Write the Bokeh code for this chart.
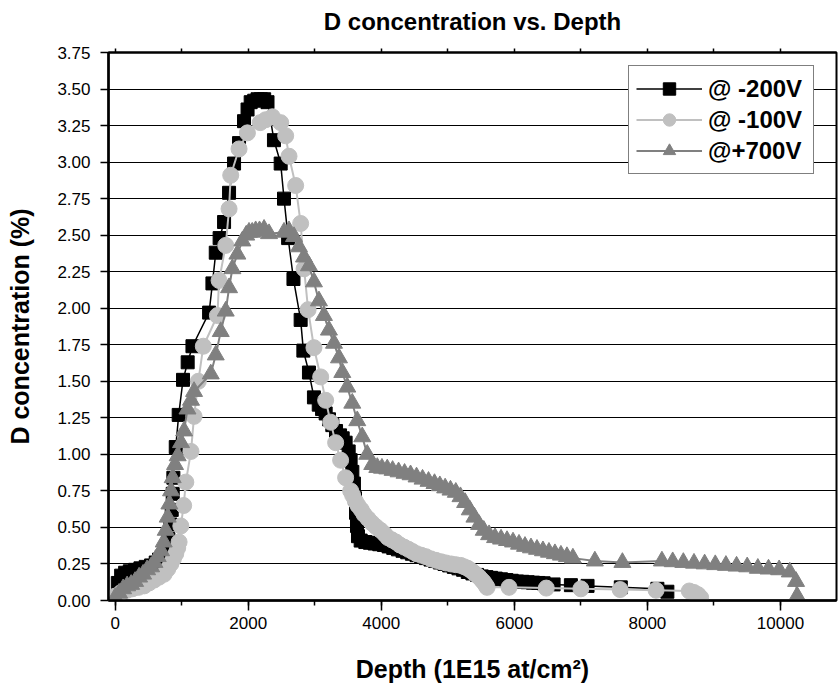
from bokeh.plotting import figure
from bokeh.models import (Range1d, LinearAxis, SingleIntervalTicker, NumeralTickFormatter,
                          FixedTicker, Legend, LegendItem, Grid)
from bokeh.embed import file_html
from bokeh.resources import INLINE

FONT = "Liberation Sans"

# ---------------- data ----------------
title_text = "D concentration vs. Depth"
x_label = "Depth (1E15 at/cm²)"
y_label = "D concentration (%)"
series_names = ["@ -200V", "@ -100V", "@+700V"]

m200_x = [40, 90, 150, 220, 300, 380, 460, 540, 610, 660,
          700, 760, 800, 830, 850, 865, 875, 911, 955, 1020,
          1090, 1162, 1412, 1462, 1512, 1570, 1637, 1712, 1787, 1862,
          1937, 1990, 2037, 2090, 2140, 2190, 2240, 2290, 2387, 2488,
          2538, 2600, 2680, 2788, 2829, 2913, 2988, 3060, 3110, 3164,
          3214, 3264, 3320, 3380, 3420, 3464, 3510, 3539, 3565, 3589,
          3605, 3620, 3635, 3650, 3690, 3760, 3830, 3900, 3970, 4040,
          4110, 4180, 4250, 4320, 4390, 4460, 4530, 4600, 4670, 4740,
          4810, 4880, 4950, 5020, 5090, 5160, 5230, 5300, 5370, 5440,
          5510, 5580, 5650, 5720, 5800, 5880, 5960, 6040, 6120, 6200,
          6280, 6360, 6440, 6590, 6850, 7100, 7600, 8150, 8300]
m200_y = [0.12, 0.17, 0.19, 0.20, 0.21, 0.22, 0.23, 0.24, 0.26, 0.28,
          0.30, 0.34, 0.42, 0.52, 0.62, 0.73, 0.84, 1.05, 1.27, 1.51,
          1.63, 1.74, 1.97, 2.17, 2.38, 2.48, 2.59, 2.79, 2.99, 3.13,
          3.28, 3.36, 3.41, 3.42, 3.43, 3.43, 3.43, 3.41, 3.15, 2.99,
          2.75, 2.48, 2.20, 1.92, 1.71, 1.56, 1.39, 1.34, 1.31, 1.28,
          1.24, 1.20, 1.16, 1.13, 1.11, 1.08, 1.02, 0.96, 0.88, 0.80,
          0.70, 0.60, 0.51, 0.44, 0.41, 0.40, 0.395, 0.39, 0.385, 0.38,
          0.37, 0.36, 0.35, 0.34, 0.33, 0.32, 0.31, 0.30, 0.29, 0.28,
          0.27, 0.26, 0.25, 0.24, 0.23, 0.22, 0.21, 0.195, 0.185, 0.175,
          0.165, 0.16, 0.155, 0.15, 0.145, 0.14, 0.135, 0.13, 0.128, 0.125,
          0.122, 0.12, 0.118, 0.11, 0.105, 0.10, 0.09, 0.08, 0.06]

m100_x = [0, 90, 180, 260, 350, 436, 510, 586, 660, 736,
          790, 836, 875, 911, 940, 961, 987, 1030, 1062, 1140,
          1186, 1250, 1325, 1537, 1562, 1662, 1712, 1737, 1862, 1988,
          2180, 2263, 2363, 2488, 2563, 2613, 2713, 2788, 2840, 2900,
          2988, 3089, 3164, 3239, 3314, 3389, 3464, 3540, 3570, 3610,
          3650, 3700, 3740, 3800, 3860, 3920, 3990, 4050, 4100, 4160,
          4220, 4280, 4345, 4410, 4470, 4530, 4600, 4670, 4745, 4820,
          4900, 4970, 5050, 5120, 5195, 5250, 5300, 5350, 5390, 5430,
          5470, 5510, 5540, 5570, 5590, 5920, 6480, 7000, 7590, 8130,
          8630, 8700, 8760, 8800]
m100_y = [0.03, 0.055, 0.07, 0.08, 0.09, 0.10, 0.12, 0.14, 0.16, 0.18,
          0.215, 0.25, 0.285, 0.32, 0.36, 0.40, 0.51, 0.65, 0.81, 1.02,
          1.26, 1.50, 1.74, 1.95, 2.19, 2.43, 2.68, 2.91, 3.09, 3.20,
          3.27, 3.29, 3.31, 3.27, 3.18, 3.04, 2.84, 2.58, 2.27, 1.99,
          1.73, 1.53, 1.37, 1.22, 1.08, 0.96, 0.84, 0.75, 0.72, 0.68,
          0.65, 0.62, 0.59, 0.56, 0.53, 0.505, 0.48, 0.455, 0.43, 0.415,
          0.40, 0.38, 0.365, 0.35, 0.335, 0.32, 0.31, 0.30, 0.285, 0.275,
          0.265, 0.257, 0.25, 0.245, 0.24, 0.23, 0.22, 0.205, 0.19, 0.175,
          0.16, 0.14, 0.125, 0.105, 0.09, 0.09, 0.085, 0.08, 0.075, 0.07,
          0.065, 0.055, 0.04, 0.02]

p700_x = [0, 60, 120, 180, 240, 300, 360, 420, 480, 540,
          590, 640, 690, 730, 760, 790, 815, 840, 865, 900,
          940, 990, 1036, 1087, 1140, 1186, 1437, 1512, 1587, 1662,
          1712, 1762, 1837, 1912, 1970, 2012, 2060, 2112, 2170, 2238,
          2313, 2538, 2613, 2688, 2763, 2838, 2913, 2988, 3063, 3138,
          3213, 3289, 3364, 3414, 3489, 3564, 3639, 3714, 3789, 3864,
          3940, 4010, 4090, 4170, 4260, 4350, 4440, 4530, 4620, 4710,
          4800, 4880, 4960, 5040, 5120, 5190, 5260, 5330, 5400, 5470,
          5540, 5620, 5710, 5800, 5890, 5980, 6070, 6160, 6250, 6340,
          6430, 6520, 6610, 6700, 6790, 6880, 7210, 7624, 8218, 8380,
          8540, 8700, 8860, 9020, 9180, 9340, 9500, 9660, 9820, 9980,
          10140, 10234, 10250]
p700_y = [0.02, 0.05, 0.08, 0.10, 0.11, 0.13, 0.16, 0.18, 0.21, 0.23,
          0.26, 0.30, 0.34, 0.40, 0.48, 0.57, 0.66, 0.75, 0.84, 0.93,
          0.99, 1.08, 1.16, 1.31, 1.37, 1.43, 1.55, 1.68, 1.84, 1.98,
          2.14, 2.27, 2.37, 2.46, 2.50, 2.52, 2.52, 2.53, 2.53, 2.54,
          2.51, 2.52, 2.53, 2.49, 2.42, 2.35, 2.29, 2.18, 2.05, 1.95,
          1.85, 1.76, 1.66, 1.56, 1.46, 1.35, 1.23, 1.12, 1.00, 0.93,
          0.91, 0.905, 0.90, 0.89, 0.88, 0.87, 0.86, 0.845, 0.83, 0.815,
          0.80, 0.785, 0.77, 0.755, 0.74, 0.71, 0.67, 0.62, 0.57, 0.52,
          0.48, 0.45, 0.43, 0.42, 0.41, 0.40, 0.385, 0.37, 0.36, 0.35,
          0.34, 0.33, 0.32, 0.31, 0.30, 0.29, 0.27, 0.26, 0.27, 0.265,
          0.26, 0.255, 0.25, 0.245, 0.24, 0.235, 0.23, 0.22, 0.215, 0.21,
          0.195, 0.13, 0.03]

x_major_step = 2000
x_top_step = 1000
x_top_max = 10000
y_step = 0.25

# ---------------- figure ----------------
p = figure(width=838, height=694, output_backend="svg", toolbar_location=None,
           title=None,
           x_range=Range1d(-100, 10842), y_range=Range1d(0, 3.75),
           x_axis_type=None, y_axis_type=None,
           min_border_left=108, min_border_right=2, min_border_top=52, min_border_bottom=94)
p.outline_line_color = "black"
p.outline_line_width = 2
p.background_fill_color = "white"
p.border_fill_color = "white"

bottom = LinearAxis(ticker=SingleIntervalTicker(interval=x_major_step, num_minor_ticks=2),
                    axis_label=x_label)
left = LinearAxis(ticker=SingleIntervalTicker(interval=y_step, num_minor_ticks=0),
                  formatter=NumeralTickFormatter(format="0.00"), axis_label=y_label)
# top axis: only small outward ticks every 1000, and it carries the chart title
top = LinearAxis(ticker=FixedTicker(ticks=[],
                                    minor_ticks=list(range(0, x_top_max + 1, x_top_step))),
                 axis_label=title_text)

for ax in (bottom, left, top):
    ax.axis_line_color = "black"
    ax.axis_line_width = 2.5
    ax.major_tick_line_color = "black"
    ax.major_tick_line_width = 1.5
    ax.minor_tick_line_color = "black"
    ax.minor_tick_line_width = 1.5
    ax.major_tick_in = 0
    ax.minor_tick_in = 0
    ax.major_label_text_font = FONT
    ax.major_label_text_color = "black"
    ax.major_label_text_font_size = "17px"
    ax.axis_label_text_font = FONT
    ax.axis_label_text_font_style = "bold"
    ax.axis_label_text_font_size = "25px"
    ax.axis_label_text_color = "black"

bottom.major_tick_out = 10
bottom.minor_tick_out = 5
bottom.major_label_standoff = 6
bottom.axis_label_standoff = 23

left.major_tick_out = 8
left.minor_tick_out = 0
left.major_label_standoff = 10
left.axis_label_standoff = 20

top.axis_line_width = 2
top.major_tick_out = 0
top.minor_tick_out = 4
top.major_label_standoff = 0
top.axis_label_standoff = 14
top.axis_label_text_font_size = "24px"

p.add_layout(bottom, "below")
p.add_layout(left, "left")
p.add_layout(top, "above")

p.add_layout(Grid(dimension=1, ticker=left.ticker, grid_line_color="black",
                  grid_line_width=1))

# ---------------- series ----------------
l1 = p.line(m200_x, m200_y, line_color="black", line_width=1.5)
s1 = p.scatter(m200_x, m200_y, marker="square", size=13, fill_color="black",
               line_color="black")
l2 = p.line(m100_x, m100_y, line_color="#c0c0c0", line_width=2)
s2 = p.scatter(m100_x, m100_y, marker="circle", size=16, fill_color="#c0c0c0",
               line_color="#c0c0c0")
l3 = p.line(p700_x, p700_y, line_color="#808080", line_width=2)
s3 = p.scatter(p700_x, p700_y, marker="triangle", size=17, fill_color="#808080",
               line_color="#808080")

legend = Legend(items=[LegendItem(label=series_names[0], renderers=[l1, s1]),
                       LegendItem(label=series_names[1], renderers=[l2, s2]),
                       LegendItem(label=series_names[2], renderers=[l3, s3])],
                location=(520, 426))
legend.label_text_font = FONT
legend.label_text_font_size = "24px"
legend.label_text_font_style = "bold"
legend.label_text_color = "black"
legend.border_line_color = "black"
legend.border_line_width = 1
legend.background_fill_color = "white"
legend.background_fill_alpha = 1
legend.glyph_width = 66
legend.glyph_height = 31
legend.label_height = 31
legend.label_width = 98
legend.spacing = 0
legend.padding = 7
legend.label_standoff = 6
legend.margin = 0
p.add_layout(legend, "center")

open("out.html", "w").write(file_html(p, INLINE))
